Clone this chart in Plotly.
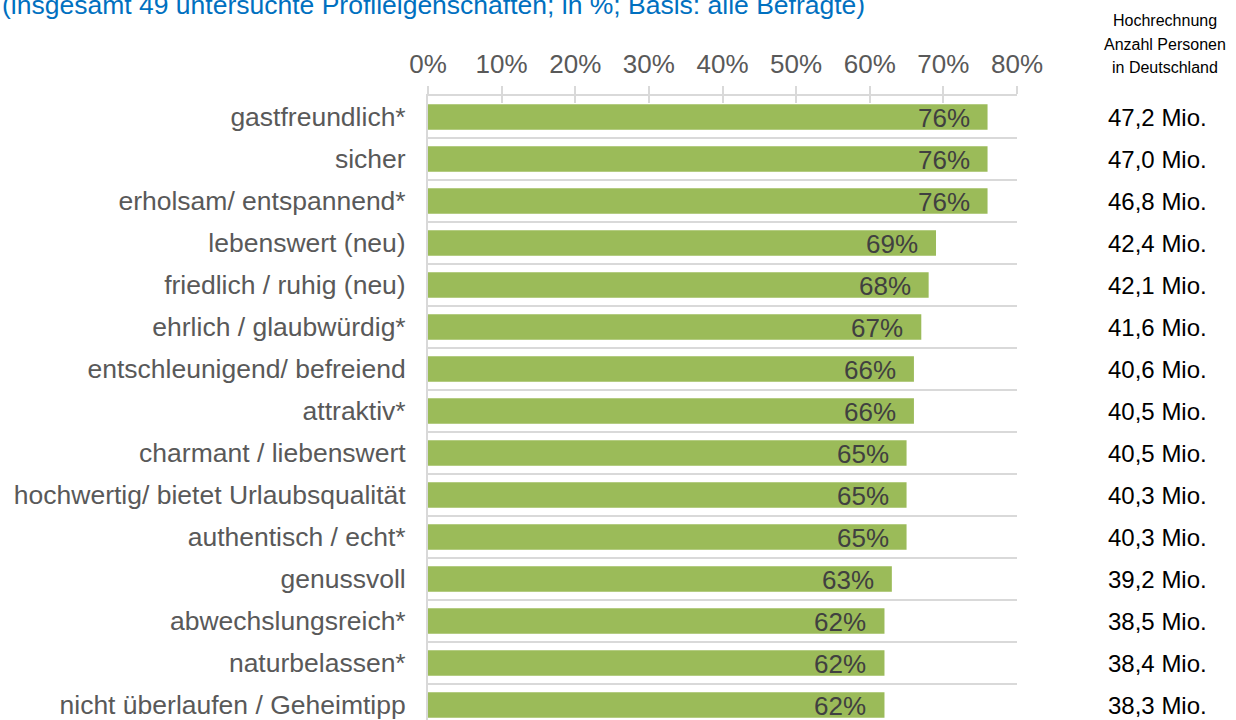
import plotly.graph_objects as go

categories = [
    "gastfreundlich*", "sicher", "erholsam/ entspannend*", "lebenswert (neu)",
    "friedlich / ruhig (neu)", "ehrlich / glaubwürdig*", "entschleunigend/ befreiend",
    "attraktiv*", "charmant / liebenswert", "hochwertig/ bietet Urlaubsqualität",
    "authentisch / echt*", "genussvoll", "abwechslungsreich*", "naturbelassen*",
    "nicht überlaufen / Geheimtipp",
]
values = [76, 76, 76, 69, 68, 67, 66, 66, 65, 65, 65, 63, 62, 62, 62]
persons = ["47,2 Mio.", "47,0 Mio.", "46,8 Mio.", "42,4 Mio.", "42,1 Mio.", "41,6 Mio.",
           "40,6 Mio.", "40,5 Mio.", "40,5 Mio.", "40,3 Mio.", "40,3 Mio.", "39,2 Mio.",
           "38,5 Mio.", "38,4 Mio.", "38,3 Mio."]
x_ticks = [0, 10, 20, 30, 40, 50, 60, 70, 80]
x_ticktext = [f"{t}%" for t in x_ticks]
title_text = "(insgesamt 49 untersuchte Profileigenschaften; in %; Basis: alle Befragte)"
header_lines = ["Hochrechnung", "Anzahl Personen", "in Deutschland"]

FONT = "Liberation Sans, Arial, sans-serif"
idx = list(range(len(categories)))

# plot area in pixels
L, R, T, B = 428, 1017, 96, 720
PW, PH = R - L, B - T


def px_x(p):
    return (p - L) / PW


def px_y(p):
    return 1 + (T - p) / PH


fig = go.Figure()
fig.add_trace(go.Bar(
    x=values, y=idx, orientation="h",
    marker=dict(color="#9BBB59", line=dict(width=0)),
    width=0.61,
    showlegend=False, hoverinfo="x+y",
))
# invisible trace to carry the inward tick marks on a second top axis
fig.add_trace(go.Scatter(x=[0], y=[0], xaxis="x2", mode="markers",
                         marker=dict(opacity=0), showlegend=False, hoverinfo="skip"))

fig.update_layout(
    width=1236, height=720,
    margin=dict(l=L, r=1236 - R, t=T, b=0),
    paper_bgcolor="white", plot_bgcolor="white",
    font=dict(family=FONT, color="#595959"),
    xaxis=dict(
        side="top", range=[0, 80], tickvals=x_ticks, ticktext=x_ticktext,
        tickfont=dict(size=26, color="#595959", family=FONT),
        showgrid=False, zeroline=False,
        showline=True, linecolor="#D9D9D9", linewidth=2,
        ticks="outside", ticklen=8, tickcolor="#D9D9D9", tickwidth=2,
        ticklabelstandoff=3,
    ),
    xaxis2=dict(
        overlaying="x", side="top", range=[0, 80], tickvals=x_ticks,
        showticklabels=False, showgrid=False, zeroline=False, showline=False,
        ticks="inside", ticklen=7, tickcolor="#D9D9D9", tickwidth=2,
    ),
    yaxis=dict(
        range=[14.357, -0.5], tickvals=idx, ticktext=categories,
        tickfont=dict(size=26.5, color="#595959", family=FONT),
        showgrid=False, zeroline=False,
        showline=True, linecolor="#D9D9D9", linewidth=2,
        ticks="", ticklabelstandoff=15, ticklabeloverflow="allow",
        minor=dict(tickvals=[i + 0.5 for i in idx], showgrid=True,
                   gridcolor="#D9D9D9", gridwidth=2, ticks=""),
    ),
)

# value labels at the end of each bar
for i, v in enumerate(values):
    fig.add_annotation(x=v, xref="x", y=i, yref="y", text=f"{v}%", showarrow=False,
                       xanchor="right", yanchor="middle", xshift=-16, yshift=-1,
                       font=dict(size=26, color="#404040", family=FONT))

# person projections column
for i, p in enumerate(persons):
    fig.add_annotation(x=px_x(1157), xref="paper", y=i, yref="y", text=p, showarrow=False,
                       xanchor="center", yanchor="middle",
                       font=dict(size=24, color="#000000", family=FONT))

for k, line in enumerate(header_lines):
    fig.add_annotation(x=px_x(1165), xref="paper", y=px_y(21 + 23.3 * k), yref="paper",
                       text=line, showarrow=False, xanchor="center", yanchor="middle",
                       font=dict(size=16, color="#000000", family=FONT))

fig.add_annotation(x=px_x(0), xref="paper", y=px_y(5), yref="paper",
                   text=title_text, showarrow=False, xanchor="left", yanchor="middle",
                   font=dict(size=26.5, color="#0070C0", family=FONT))

fig.write_html("out.html", config={"displayModeBar": False},
               post_script="document.body.style.margin='0px';")
